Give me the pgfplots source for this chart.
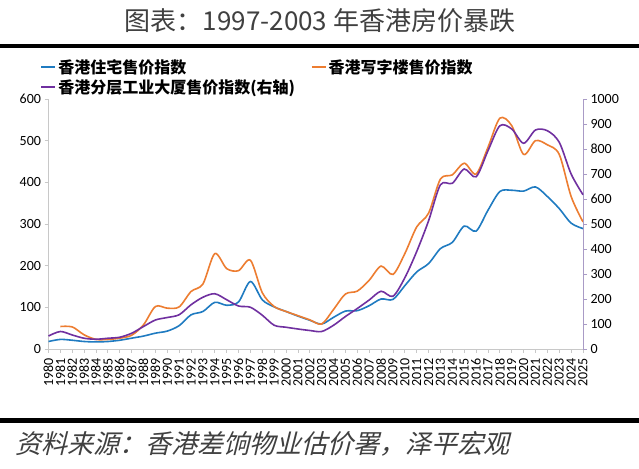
\documentclass[border=0pt]{standalone}
\usepackage{fontspec}
\setmainfont{Carlito}
\newfontfamily\cjk{Noto Sans CJK SC}
\newfontfamily\cjkslant[FakeSlant=0.25]{Noto Sans CJK SC}
\usepackage{pgfplots}
\pgfplotsset{compat=1.18}
\definecolor{cblue}{HTML}{1F7BC1}
\definecolor{corange}{HTML}{ED7D31}
\definecolor{cpurple}{HTML}{7030A0}
\definecolor{raxis}{HTML}{A99BC6}
\definecolor{laxis}{HTML}{C8C8C8}
\begin{document}
\begin{tikzpicture}[x=1pt,y=1pt]
\useasboundingbox (0,0) rectangle (639,468);
\fill[white] (0,0) rectangle (639,468);
\node[font=\cjk\fontsize{26}{30}\selectfont, text=black!75] at (320,447) {图表：1997-2003 年香港房价暴跌};
\fill[black] (0,419.5) rectangle (639,424);
\fill[black] (0,45) rectangle (639,49.5);
\node[anchor=west, font=\cjkslant\fontsize{26}{30}\selectfont, text=black!75] at (12,24) {资料来源：香港差饷物业估价署，泽平宏观};

\begin{axis}[
  at={(48.5pt,119pt)}, anchor=south west,
  scale only axis, width=534.5pt, height=250pt,
  xmin=1980, xmax=2025, ymin=0, ymax=600,
  axis x line*=bottom, axis y line*=left,
  axis line style={laxis, line width=0.8pt},
  xtick={1980,...,2025}, ytick={0,100,...,600},
  tick align=outside, major tick length=4pt,
  tick style={laxis, line width=0.8pt},
  xticklabel style={rotate=90, anchor=east, font=\fontsize{14}{16}\selectfont, xshift=-2pt},
  yticklabel style={font=\fontsize{14}{16}\selectfont},
  /pgf/number format/1000 sep={},
  /pgf/number format/assume math mode=true,
  clip=false,
  legend columns=2,
  legend cell align=left,
  legend style={at={(-0.015,1.168)}, anchor=north west, draw=none, fill=none,
    inner sep=0pt, font=\cjk\bfseries\fontsize{16}{18}\selectfont,
    /tikz/every even column/.append style={column sep=6pt}, row sep=1pt},
  legend image code/.code={\draw[#1, line width=1.6pt] (0pt,0pt) -- (14pt,0pt);},
]
\addplot[cblue, line width=1.6pt, smooth] coordinates {
(1980,18)(1981,23)(1982,21)(1983,18)(1984,17)(1985,18)(1986,21)(1987,26)(1988,31)(1989,38)
(1990,43)(1991,56)(1992,82)(1993,90)(1994,112)(1995,105)(1996,113)(1997,162)(1998,118)(1999,101)
(2000,90)(2001,79)(2002,69)(2003,60)(2004,76)(2005,91)(2006,92)(2007,104)(2008,120)(2009,119)
(2010,152)(2011,185)(2012,205)(2013,241)(2014,256)(2015,295)(2016,283)(2017,333)(2018,378)(2019,381)
(2020,379)(2021,389)(2022,366)(2023,337)(2024,302)(2025,289)};
\addlegendentry{香港住宅售价指数}
\addplot[corange, line width=1.6pt, smooth] coordinates {
(1981,54)(1982,53)(1983,34)(1984,23)(1985,23)(1986,26)(1987,33)(1988,58)(1989,102)
(1990,98)(1991,101)(1992,138)(1993,156)(1994,229)(1995,193)(1996,188)(1997,213)(1998,135)(1999,102)
(2000,90)(2001,80)(2002,70)(2003,60)(2004,95)(2005,132)(2006,139)(2007,165)(2008,199)(2009,179)
(2010,229)(2011,293)(2012,326)(2013,408)(2014,418)(2015,446)(2016,420)(2017,484)(2018,554)(2019,536)
(2020,467)(2021,500)(2022,490)(2023,467)(2024,366)(2025,305)};
\addlegendentry{香港写字楼售价指数}
\addlegendimage{cpurple}
\addlegendentry{香港分层工业大厦售价指数(右轴)\hspace*{8pt}}
\end{axis}

\begin{axis}[
  at={(48.5pt,119pt)}, anchor=south west,
  scale only axis, width=534.5pt, height=250pt,
  xmin=1980, xmax=2025, ymin=0, ymax=1000,
  axis y line*=right, axis x line=none,
  axis line style={raxis, line width=0.8pt},
  ytick={0,100,...,1000},
  tick align=outside, major tick length=4pt,
  tick style={raxis, line width=0.8pt},
  yticklabel style={font=\fontsize{14}{16}\selectfont},
  /pgf/number format/1000 sep={},
  /pgf/number format/assume math mode=true,
  clip=false,
]
\addplot[cpurple, line width=1.6pt, smooth] coordinates {
(1980,52)(1981,70)(1982,56)(1983,43)(1984,39)(1985,43)(1986,47)(1987,63)(1988,90)(1989,116)
(1990,126)(1991,137)(1992,177)(1993,207)(1994,221)(1995,197)(1996,172)(1997,167)(1998,135)(1999,95)
(2000,87)(2001,80)(2002,74)(2003,70)(2004,95)(2005,130)(2006,162)(2007,196)(2008,231)(2009,211)
(2010,285)(2011,390)(2012,513)(2013,657)(2014,663)(2015,720)(2016,689)(2017,793)(2018,893)(2019,880)
(2020,823)(2021,876)(2022,873)(2023,827)(2024,700)(2025,617)};
\end{axis}
\end{tikzpicture}
\end{document}
